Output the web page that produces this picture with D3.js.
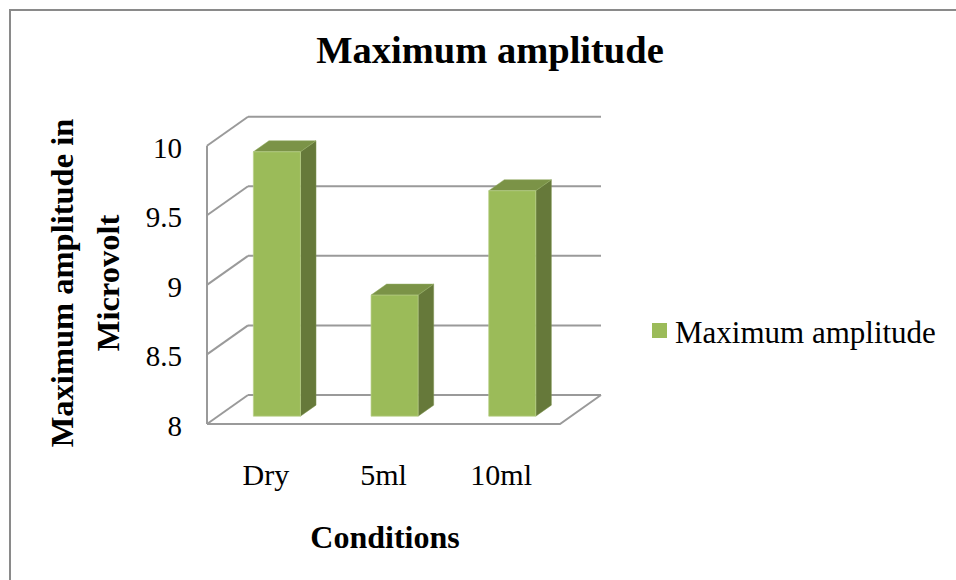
<!DOCTYPE html>
<html>
<head>
<meta charset="utf-8">
<script src="https://cdn.jsdelivr.net/npm/d3@7/dist/d3.min.js"></script>
<style>
  html, body { margin: 0; padding: 0; background: #fff; }
  svg { display: block; }
  text { font-family: "Liberation Serif", "Times New Roman", serif; fill: #000; }
</style>
</head>
<body>
<svg id="chart" width="956" height="580"></svg>
<script>
// Data
const categories = ["Dry", "5ml", "10ml"];
const values = [9.9, 8.87, 9.62];
const yTicks = [8, 8.5, 9, 9.5, 10];
const tickLabels = ["8", "8.5", "9", "9.5", "10"];
const seriesName = "Maximum amplitude";

const W = 956, H = 580;
const svg = d3.select("#chart");

// Outer frame (runs past the right and bottom edges)
svg.append("path")
  .attr("d", `M10,${H + 5} L10,10 L${W + 5},10`)
  .attr("fill", "none")
  .attr("stroke", "#8a8a8a")
  .attr("stroke-width", 2);

// Front plane of the 3D box
const x0 = 207, x1 = 560;
const x = d3.scaleBand().domain(categories).range([x0, x1]).padding(0);
const y = d3.scaleLinear().domain([8, 10]).range([424, 145.7]);
// Oblique depth offset for z in [0,1]
const DX = 41, DY = -29;
const P = (px, py, z) => [px + DX * z, py + DY * z];

const gridColor = "#9a9a9a";
const grid = svg.append("g").attr("fill", "none").attr("stroke", gridColor).attr("stroke-width", 2);

// Back wall gridlines
yTicks.forEach(t => {
  const a = P(x0, y(t), 1), b = P(x1, y(t), 1);
  grid.append("line").attr("x1", a[0]).attr("y1", a[1]).attr("x2", b[0]).attr("y2", b[1]);
});
// Side wall: front edge and diagonals
grid.append("line").attr("x1", x0).attr("y1", y(10)).attr("x2", x0).attr("y2", y(8));
yTicks.forEach(t => {
  const b = P(x0, y(t), 1);
  grid.append("line").attr("x1", x0).attr("y1", y(t)).attr("x2", b[0]).attr("y2", b[1]);
});
// Floor front and right edges
{
  const br = P(x1, y(8), 1);
  grid.append("path").attr("d", `M${x0},${y(8)} L${x1},${y(8)} L${br[0]},${br[1]}`);
}

// Bars
const zFront = 0.27, zBack = 0.65;
const barFrac = 0.4;
const colFront = "#9bbb59", colSide = "#66793a", colTop = "#7b9347";
const bars = svg.append("g");
categories.forEach((c, i) => {
  const cx = x(c) + x.bandwidth() / 2;
  const bw = x.bandwidth() * barFrac;
  const l = cx - bw / 2, r = cx + bw / 2;
  const yb = y(8), yt = y(values[i]);
  const fl = P(l, yb, zFront), fr = P(r, yb, zFront);
  const tl = P(l, yt, zFront), tr = P(r, yt, zFront);
  const btl = P(l, yt, zBack), btr = P(r, yt, zBack), bbr = P(r, yb, zBack);
  const g = bars.append("g");
  g.append("polygon").attr("points", [tr, btr, bbr, fr].map(p => p.join(",")).join(" "))
    .attr("fill", colSide).attr("stroke", "#7f9450").attr("stroke-width", 0.5);
  g.append("polygon").attr("points", [tl, btl, btr, tr].map(p => p.join(",")).join(" "))
    .attr("fill", colTop).attr("stroke", "#93ad62").attr("stroke-width", 0.5);
  g.append("polygon").attr("points", [tl, tr, fr, fl].map(p => p.join(",")).join(" "))
    .attr("fill", colFront).attr("stroke", "#b9d08a").attr("stroke-width", 0.7);
});

// Y tick labels
svg.append("g").selectAll("text").data(yTicks).join("text")
  .attr("x", 182).attr("y", d => y(d) + 2)
  .attr("text-anchor", "end").attr("dominant-baseline", "central")
  .style("font-size", "29px")
  .text((d, i) => tickLabels[i]);

// X category labels
svg.append("g").selectAll("text").data(categories).join("text")
  .attr("x", d => x(d) + x.bandwidth() / 2).attr("y", 485)
  .attr("text-anchor", "middle")
  .style("font-size", "30px")
  .text(d => d);

// Title
svg.append("text").attr("x", 490).attr("y", 63).attr("text-anchor", "middle")
  .style("font-size", "38.5px").style("font-weight", "bold").text(seriesName);

// Axis titles
svg.append("text").attr("x", 385).attr("y", 548).attr("text-anchor", "middle")
  .style("font-size", "32px").style("font-weight", "bold").text("Conditions");

const yTitle = svg.append("text")
  .attr("transform", "translate(0,283) rotate(-90)")
  .attr("text-anchor", "middle")
  .style("font-size", "32.5px").style("font-weight", "bold");
yTitle.append("tspan").attr("x", 0).attr("y", 73).text("Maximum amplitude in");
yTitle.append("tspan").attr("x", 0).attr("y", 119).text("Microvolt");

// Legend
const lg = svg.append("g");
lg.append("rect").attr("x", 652).attr("y", 323).attr("width", 15).attr("height", 15).attr("fill", colFront);
lg.append("text").attr("x", 675).attr("y", 343).style("font-size", "31px").text(seriesName);
</script>
</body>
</html>
